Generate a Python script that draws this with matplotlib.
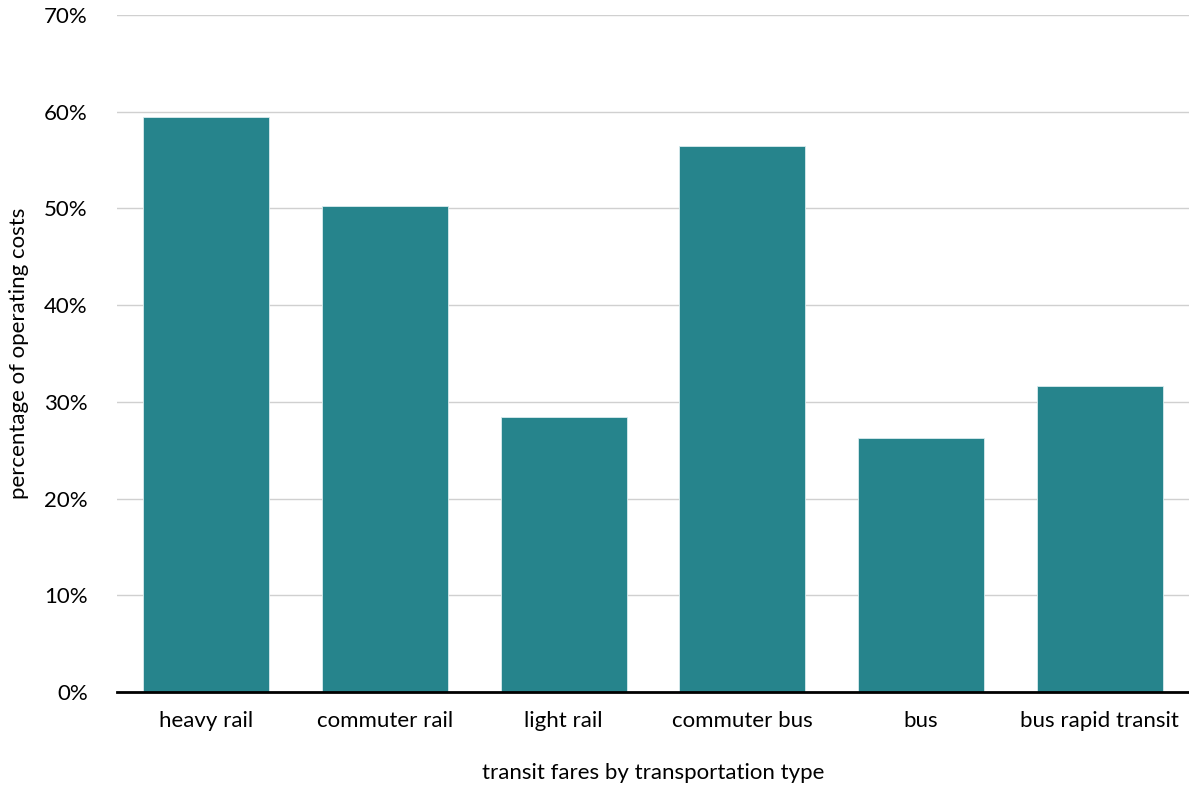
import matplotlib.pyplot as plt
from matplotlib.ticker import PercentFormatter

# transit fare recovery by mode (fraction of operating costs)
categories = ['heavy rail', 'commuter rail', 'light rail', 'commuter bus', 'bus', 'bus rapid transit']
fare_share = [59.4, 50.2, 28.4, 56.5, 26.3, 31.6]
y_ticks = [0, 10, 20, 30, 40, 50, 60, 70]

plt.rcParams['font.family'] = ['Lato', 'DejaVu Sans']

fig = plt.figure(figsize=(11.89, 7.88), dpi=100)
ax = fig.add_axes([0.0984, 0.1218, 0.9016, 0.8592])

ax.bar(categories, fare_share, width=0.705, color='#26848C', edgecolor='#d9ecee', linewidth=0.6, zorder=3)

ax.set_ylim(0, 70)
ax.set_xlim(-0.5, len(categories) - 0.5)
ax.set_yticks(y_ticks)
ax.yaxis.set_major_formatter(PercentFormatter(decimals=0))
ax.grid(axis='y', color='#d0d0d0', linewidth=1, zorder=0)

for side in ['top', 'right', 'left']:
    ax.spines[side].set_visible(False)
ax.spines['bottom'].set_linewidth(2)
ax.spines['bottom'].set_color('black')
ax.spines['bottom'].set_zorder(4)

ax.tick_params(axis='both', length=0, labelsize=16, colors='black')
ax.tick_params(axis='x', pad=14)
ax.tick_params(axis='y', pad=21)

ax.set_xlabel('transit fares by transportation type', fontsize=16, labelpad=23)
ax.set_ylabel('percentage of operating costs', fontsize=16, labelpad=11)

fig.savefig('out.png', dpi=100)
